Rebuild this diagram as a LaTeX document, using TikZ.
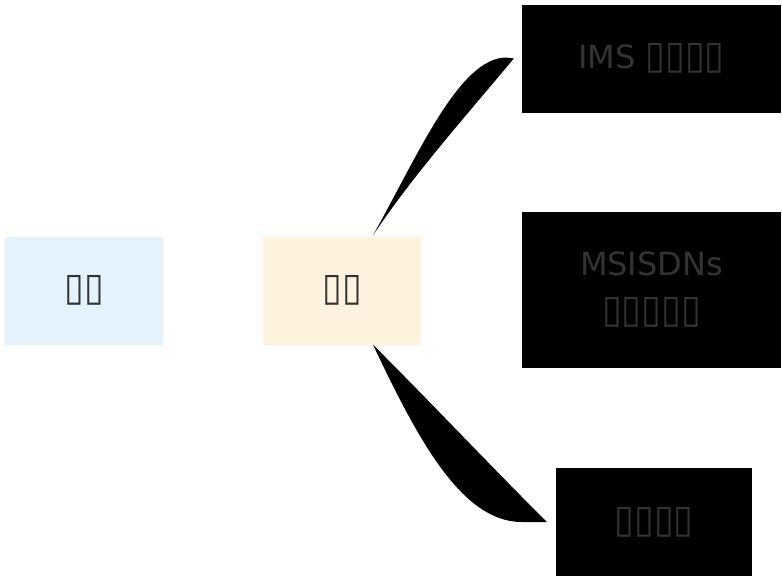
\documentclass[tikz,border=0pt]{standalone}
\usepackage{fontspec}
\usepackage{graphicx}
\setmainfont{DejaVu Sans}
\usetikzlibrary{calc}
\definecolor{txt}{HTML}{333333}
\definecolor{blueL}{HTML}{E3F2FD}
\definecolor{orangeL}{HTML}{FFF3E0}
\newcommand{\tofuch}{\scalebox{1.12}[1.22]{▯}}
\begin{document}
\begin{tikzpicture}[x=1pt,y=-1pt,
  box/.style={inner sep=0pt, align=center, text=txt,
    font=\fontsize{32}{47}\selectfont},
  dark/.style={box, fill=black},
  branch/.style={fill=black, draw=none}]
\useasboundingbox (0,0) rectangle (782,581);
\node[box, fill=blueL, minimum width=158pt, minimum height=108pt] (root) at (84,290.5) {\tofuch\tofuch};
\node[box, fill=orangeL, minimum width=158pt, minimum height=108pt] (mid) at (342,290.5) {\tofuch\tofuch};
\node[dark, minimum width=259pt, minimum height=108pt] (ims) at (651.5,58.5) {IMS \tofuch\tofuch\tofuch\tofuch};
\node[dark, minimum width=259pt, minimum height=156pt] (msisdn) at (651.5,290) {MSISDNs\\\tofuch\tofuch\tofuch\tofuch\tofuch};
\node[dark, minimum width=196pt, minimum height=108pt] (last) at (654,522) {\tofuch\tofuch\tofuch\tofuch};
\coordinate (t1) at ($(mid.north)+(31,-1)$);
\coordinate (e1) at ($(ims.west)+(-8,0)$);
\coordinate (t2) at ($(mid.south)+(31,0)$);
\coordinate (e2) at ($(last.west)+(-9,0)$);
\path[branch] (t1) .. controls ($(t1)+(45,-80)$) and ($(e1)+(-55,0)$) .. ($(e1)+(-8,-1)$)
  -- (e1) .. controls ($(e1)+(-50,60)$) and ($(t1)+(40,-60)$) .. (t1) -- cycle;
\path[branch] (t2) .. controls ($(t2)+(45,95)$) and ($(e2)+(-85,0)$) .. ($(e2)+(-25,0)$)
  -- (e2) .. controls ($(e2)+(-60,-60)$) and ($(t2)+(60,60)$) .. (t2) -- cycle;
\end{tikzpicture}
\end{document}
